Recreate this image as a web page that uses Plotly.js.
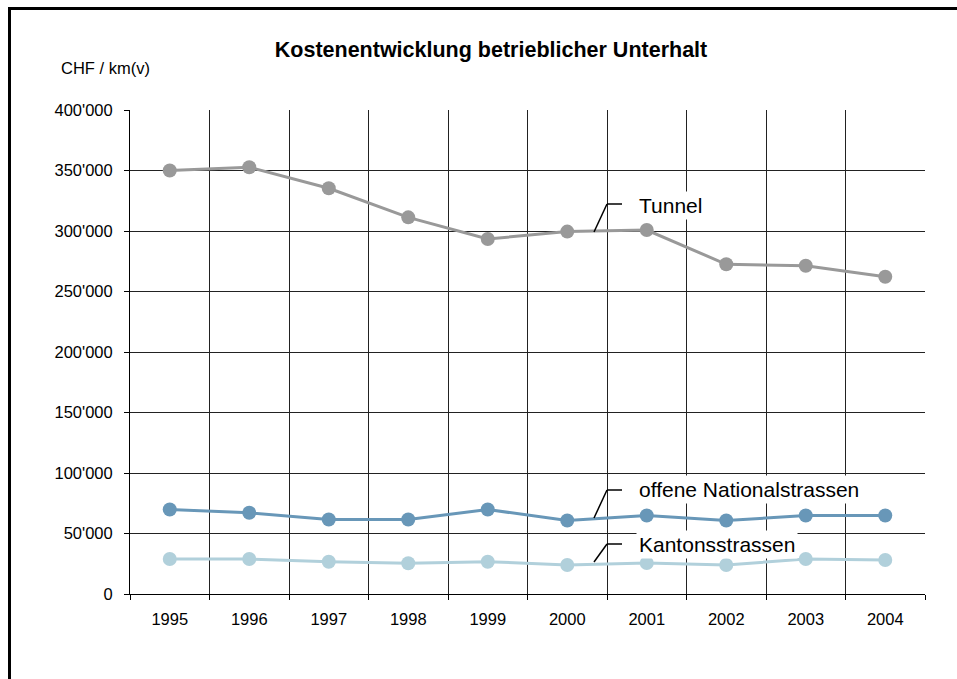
<!DOCTYPE html>
<html>
<head>
<meta charset="utf-8">
<script src="https://cdn.plot.ly/plotly-3.0.1.min.js"></script>
<style>
  html, body { margin: 0; padding: 0; background: #fff; overflow: hidden; }
  #wrap { position: relative; width: 957px; height: 679px; overflow: hidden; }
  #chart { width: 957px; height: 679px; }
  #frame { position: absolute; left: 8px; top: 7px; width: 980px; height: 700px;
           border-left: 3px solid #000; border-top: 3px solid #000; pointer-events: none; }
</style>
</head>
<body>
<div id="wrap">
  <div id="chart"></div>
  <div id="frame"></div>
</div>
<script>
// years on the x axis
var years = ['1995', '1996', '1997', '1998', '1999', '2000', '2001', '2002', '2003', '2004'];

// CHF per km
var tunnel = [350000, 352700, 335300, 311300, 293400, 299500, 300800, 272500, 271300, 262200];
var offene = [69800, 67100, 61600, 61600, 69800, 60700, 64900, 60700, 64900, 64900];
var kantone = [28900, 28900, 26700, 25400, 26700, 24000, 25600, 24000, 28900, 28100];

var yTicks = [0, 50000, 100000, 150000, 200000, 250000, 300000, 350000, 400000];
var yTickText = ['0', "50'000", "100'000", "150'000", "200'000", "250'000", "300'000", "350'000", "400'000"];

var fontName = 'Liberation Sans, Arial, sans-serif';

function serie(y, name, color) {
    return {
        x: years,
        y: y,
        name: name,
        type: 'scatter',
        mode: 'lines+markers',
        line: { color: color, width: 3 },
        marker: { color: color, size: 14 }
    };
}

var data = [
    serie(tunnel, 'Tunnel', '#999999'),
    serie(offene, 'offene Nationalstrassen', '#6897b8'),
    serie(kantone, 'Kantonsstrassen', '#b1d0db')
];

// plot area: x 130..925, y 110..594 in pixels
function px(X) { return (X - 130) / 795; }
function py(Y) { return (594 - Y) / 484; }

function leader(x0, y0, y1) {
    return [
        { type: 'line', xref: 'paper', yref: 'paper', x0: px(x0), y0: py(y0), x1: px(x0 + 13), y1: py(y1), line: { color: '#000', width: 1.5 } },
        { type: 'line', xref: 'paper', yref: 'paper', x0: px(x0 + 13), y0: py(y1), x1: px(x0 + 28), y1: py(y1), line: { color: '#000', width: 1.5 } }
    ];
}

function label(text, Y) {
    return {
        xref: 'paper', yref: 'paper', x: px(636), y: py(Y),
        xanchor: 'left', yanchor: 'middle', showarrow: false,
        text: text, bgcolor: '#fff', borderpad: 2,
        font: { family: fontName, size: 21, color: '#000' }
    };
}

var shapes = [].concat(
    leader(594, 232, 204),
    leader(594, 518, 490),
    leader(594, 562, 544)
);

var layout = {
    width: 957,
    height: 679,
    margin: { l: 130, r: 32, t: 110, b: 85 },
    paper_bgcolor: '#fff',
    plot_bgcolor: '#fff',
    showlegend: false,
    font: { family: fontName, size: 16.5, color: '#000' },
    title: {
        text: '<b>Kostenentwicklung betrieblicher Unterhalt</b>',
        font: { family: fontName, size: 21.5, color: '#000' },
        x: 491 / 957, xanchor: 'center',
        y: 1 - 49 / 679, yanchor: 'middle'
    },
    xaxis: {
        type: 'category',
        range: [-0.5, 9.5],
        tickson: 'boundaries',
        ticks: 'outside',
        ticklen: 5,
        tickcolor: '#000',
        ticklabelstandoff: 10,
        showgrid: true,
        gridcolor: '#222',
        gridwidth: 1,
        showline: true,
        linecolor: '#000',
        linewidth: 1,
        tickfont: { family: fontName, size: 16.5, color: '#000' },
        fixedrange: true
    },
    yaxis: {
        range: [0, 400000],
        tickvals: yTicks,
        ticktext: yTickText,
        ticks: 'outside',
        ticklen: 5,
        tickcolor: '#000',
        ticklabelstandoff: 8,
        showgrid: true,
        gridcolor: '#222',
        gridwidth: 1,
        zeroline: false,
        showline: true,
        linecolor: '#000',
        linewidth: 1,
        tickfont: { family: fontName, size: 16.5, color: '#000' },
        fixedrange: true
    },
    shapes: shapes,
    annotations: [
        label('Tunnel', 205),
        label('offene Nationalstrassen', 489),
        label('Kantonsstrassen', 544),
        {
            xref: 'paper', yref: 'paper', x: px(59), y: py(68),
            xanchor: 'left', yanchor: 'middle', showarrow: false,
            text: 'CHF / km(v)',
            font: { family: fontName, size: 16.5, color: '#000' }
        }
    ]
};

Plotly.newPlot('chart', data, layout, { displayModeBar: false, staticPlot: true });
</script>
</body>
</html>
